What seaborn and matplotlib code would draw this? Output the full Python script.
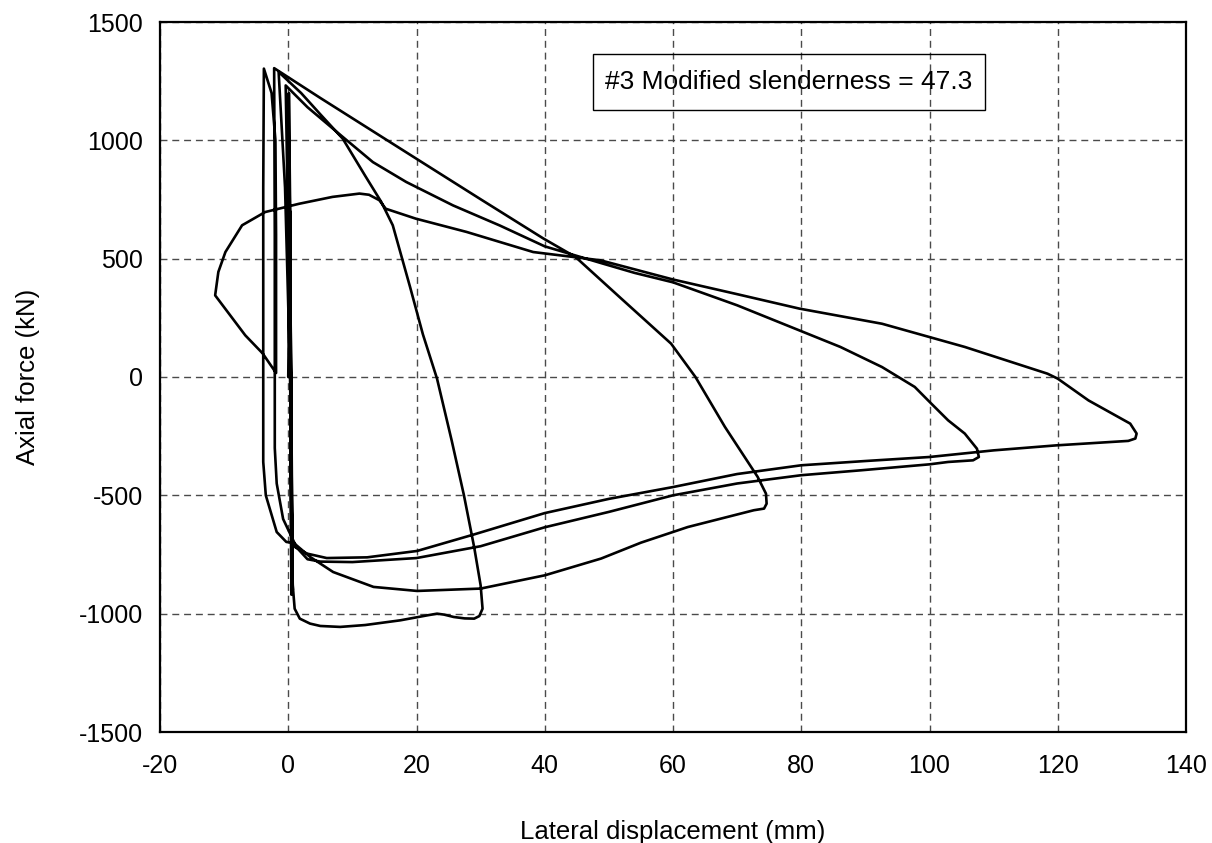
import numpy as np
import pandas as pd
import matplotlib
matplotlib.use("Agg")
import matplotlib.pyplot as plt
from matplotlib.patches import Rectangle
import seaborn as sns

# ---- data (lateral displacement in mm, axial force in kN) ----
disp_elastic = [0.0, 0.3, 0.5, 0.2, 0.6, 0.0, 0.7, 0.1, 0.5, 0.3, -0.5, -1.5]
force_elastic = [0, 700, -500, 1000, -800, 1150, -900, 1200, -920, 0, 800, 1289]

disp_loop30 = [2.0, 5.0, 8.5, 12.0, 14.5, 16.3, 19.0, 21.0, 23.2, 25.5, 27.4, 29.0, 30.0,
               30.3, 29.8, 29.0, 27.5, 25.8, 24.3, 23.2, 21.7, 17.5, 12.0, 8.1, 5.0, 3.4,
               1.8, 1.0, 0.7, 0.5, 0.3, 0.0, -0.4]
force_loop30 = [1200, 1110, 1007, 850, 740, 641, 380, 180, -7, -270, -500, -720, -880,
                -979, -1010, -1021, -1020, -1014, -1004, -1000, -1007, -1028, -1048, -1056,
                -1052, -1042, -1021, -979, -880, -500, 0, 600, 1232]

disp_loop108 = [3.0, 7.9, 13.2, 18.4, 25.7, 33.0, 40.0, 48.7, 54.0, 60.0, 70.0, 79.7, 86.1,
                92.6, 97.7, 100.3, 102.9, 105.5, 107.4, 107.7, 106.8, 102.9, 100.0, 89.4,
                80.0, 70.0, 60.0, 50.0, 40.0, 30.0, 20.0, 10.0, 5.0, 3.0, 1.3, -0.8, -1.8,
                -2.1, -2.1, -2.1, -2.2]
force_loop108 = [1140, 1028, 908, 824, 725, 640, 552, 482, 440, 400, 303, 197, 127,
                 42, -42, -113, -183, -239, -303, -338, -352, -359, -369, -394,
                 -415, -450, -500, -570, -635, -715, -765, -782, -780, -770, -720, -600, -450,
                 -300, 0, 600, 1305]

disp_loop75 = [5.0, 12.0, 20.0, 30.0, 39.8, 44.8, 51.7, 59.7, 63.5, 68.1, 73.2, 74.5, 74.6,
               74.2, 72.6, 62.3, 55.0, 48.8, 40.0, 30.0, 20.1, 13.3, 7.0, 3.4, 0.8, -0.3,
               -1.8, -3.5, -3.9, -3.9, -3.9, -3.8]
force_loop75 = [1179, 1059, 922, 751, 585, 507, 337, 141, 0, -211, -422, -493, -535,
                -556, -563, -634, -700, -767, -838, -894, -904, -887, -824, -760, -700, -697,
                -655, -500, -359, 0, 800, 1303]

disp_loop132 = [-2.6, -2.0, -1.9, -1.9, -4.0, -6.7, -11.4, -10.9, -9.8, -7.2, -3.6, 1.7, 6.9,
                11.1, 12.6, 14.2, 15.2, 19.9, 27.8, 38.2, 48.7, 60.0, 70.0, 79.7, 92.6, 105.5,
                118.4, 120.0, 124.8, 131.3, 132.3, 132.1, 131.0, 125.0, 119.7, 110.0, 100.0,
                90.0, 80.0, 70.0, 60.0, 50.0, 40.0, 29.0, 20.1, 12.3, 6.0, 2.9, 0.5]
force_loop132 = [1200, 1000, 600, 17, 100, 176, 345, 444, 528, 641, 697, 732, 761,
                 775, 770, 747, 711, 669, 613, 528, 493, 412, 350, 289, 225, 127,
                 14, -7, -99, -197, -239, -260, -270, -280, -289, -310, -338,
                 -355, -373, -410, -465, -515, -575, -665, -735, -762, -765, -746, -710]

x_ticks = [-20, 0, 20, 40, 60, 80, 100, 120, 140]
y_ticks = [-1500, -1000, -500, 0, 500, 1000, 1500]
x_label = "Lateral displacement (mm)"
y_label = "Axial force (kN)"
note = "#3 Modified slenderness = 47.3"

# ---- build one continuous path ----
disp = disp_elastic + disp_loop30 + disp_loop108 + disp_loop75 + disp_loop132
force = force_elastic + force_loop30 + force_loop108 + force_loop75 + force_loop132
df = pd.DataFrame({"disp": disp, "force": force, "order": np.arange(len(disp))})

sns.set_theme(style="white")
plt.rcParams["font.family"] = ["Liberation Sans", "DejaVu Sans"]
plt.rcParams["text.color"] = "black"
plt.rcParams["axes.labelcolor"] = "black"

fig = plt.figure(figsize=(12.12, 8.43), dpi=100)
fig.patch.set_facecolor("white")
ax = fig.add_axes([160 / 1212, 1 - 732 / 843, (1186 - 160) / 1212, (732 - 22) / 843])
ax.set_facecolor("white")

sns.lineplot(data=df, x="disp", y="force", sort=False, estimator=None,
             color="black", linewidth=1.9, ax=ax, zorder=3)

ax.set_xlim(-20, 140)
ax.set_ylim(-1500, 1500)
ax.set_xticks(x_ticks)
ax.set_yticks(y_ticks)
ax.set_xticklabels([str(t) for t in x_ticks])
ax.set_yticklabels([str(t) for t in y_ticks])
ax.grid(True, color="#4a4a4a", linestyle=(0, (5, 3.5)), linewidth=1.0)
for s in ax.spines.values():
    s.set_color("black")
    s.set_linewidth(1.6)
ax.tick_params(axis="both", direction="inout", length=8, width=1.0, colors="black",
               labelsize=18, pad=8)
ax.tick_params(axis="x", pad=12)

ax.set_xlabel(x_label, fontsize=18.5, labelpad=30)
ax.set_ylabel(y_label, fontsize=18.5, labelpad=28)

# annotation box (axes-fraction layout) and its text
box_l, box_r = (593 - 160) / 1026, (985 - 160) / 1026
box_b, box_t = (732 - 110) / 710, (732 - 54) / 710
ax.add_patch(Rectangle((box_l, box_b), box_r - box_l, box_t - box_b,
                       transform=ax.transAxes, facecolor="none", edgecolor="black",
                       linewidth=1.0, zorder=4))
ax.text((box_l + box_r) / 2, (box_b + box_t) / 2, note, fontsize=19, ha="center",
        va="center", transform=ax.transAxes, zorder=4)

fig.savefig("out.png", dpi=100, facecolor="white")
